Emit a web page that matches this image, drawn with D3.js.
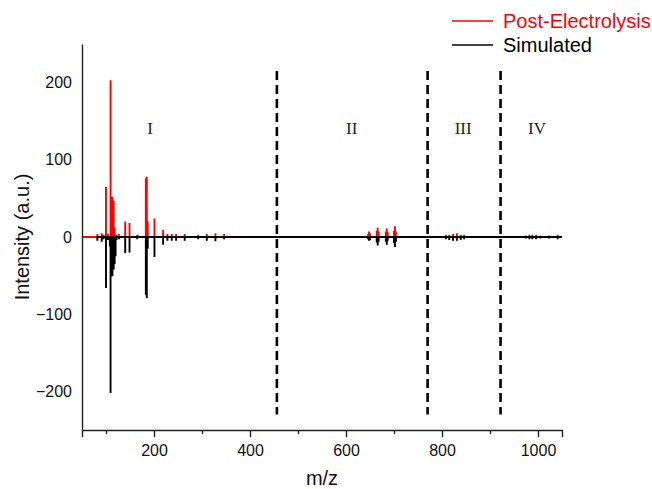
<!DOCTYPE html>
<html>
<head>
<meta charset="utf-8">
<script src="https://cdn.jsdelivr.net/npm/d3@7/dist/d3.min.js"></script>
<style>
  html, body { margin: 0; padding: 0; background: #fff; }
  svg { display: block; }
</style>
</head>
<body>
<svg id="chart" width="652" height="489"></svg>
<script>
// ---- data ----
const seriesNames = ["Post-Electrolysis", "Simulated"];
const seriesColors = ["#ff0000", "#000000"];

// Post-Electrolysis peaks: [m/z, intensity]
const postPeaks = [
  [82,4],[91,5],[95,3],[100,65],[104,4],[109.5,203],[111.5,25],[113.5,52],[116,47],[118,12],[122,3],
  [127,4],[140,20],[149,18],[165,3],[166,3],[183,76],[185,78],[187,20],[201,24],[219,9],[228,4],
  [237,4],[246,4],[264,4],[282,1],[292,3],[310,4],[328,5],[346,4],
  [646,4],[648,7],[650,5],[664,8],[666,12],[668,7],[683,7],[685,11],[687,6],[700,8],[702,14],[704,7],
  [808,3],[815,3],[823,4],[831,5],[839,3],[846,3],
  [975,2],[982,3],[988,3],[996,3],[1005,2],[1023,2],[1041,3]
];
// Simulated peaks: [m/z, intensity]
const simPeaks = [
  [82,-5],[91,-6],[95,-3],[100,-66],[104,-4],[108,-12],[109.5,-202],[111.5,-38],[113.5,-51],[116,-42],
  [118,-35],[120,-25],[122,-4],[127,-3],[140,-21],[149,-20],[165,-3],[183,-75],[185,-79],[187,-15],
  [201,-26],[219,-10],[228,-5],[237,-5],[246,-5],[264,-5],[292,-3],[310,-5],[328,-5.5],[346,-3],
  [646,-3],[648,-5],[650,-4],[664,-7],[666,-11],[668,-6],[683,-6],[685,-10],[687,-5],[700,-8],[702,-13],[704,-6],
  [808,-3],[815,-4],[823,-5],[831,-5],[839,-4],[846,-3],
  [975,-2],[982,-3],[988,-3],[996,-3],[1005,-2],[1023,-2],[1041,-3]
];
const postRange = [50, 1050];
const simRange = [80, 1050];

const xMajorTicks = [200, 400, 600, 800, 1000];
const xMinorTicks = [100, 300, 500, 700, 900];
const yTicks = [200, 100, 0, -100, -200];

const dividerMz = [456, 770, 922];
const dividerSpan = [215, -230];
const regionNames = ["I", "II", "III", "IV"];
const regionMz = [192, 612, 844, 998];
const regionY = 140;

// ---- layout ----
const svg = d3.select("#chart");
const plot = { left: 82, right: 562, top: 44, bottom: 430 };
const x = d3.scaleLinear().domain([50, 1050]).range([plot.left, plot.right]);
const y = d3.scaleLinear().domain([-250, 250]).range([plot.bottom, plot.top]);
const sans = "'Liberation Sans', Arial, sans-serif";

function spectrumPoints(peaks, range) {
  const pts = [[range[0], 0]];
  peaks.slice().sort((a, b) => a[0] - b[0]).forEach(p => {
    pts.push([p[0], 0], [p[0], p[1]], [p[0], 0]);
  });
  pts.push([range[1], 0]);
  return pts;
}
const line = d3.line().x(d => x(d[0])).y(d => y(d[1]));

// spectra
svg.append("path").attr("d", line(spectrumPoints(postPeaks, postRange)))
  .attr("fill", "none").attr("stroke", seriesColors[0]).attr("stroke-width", 1.9);
svg.append("path").attr("d", line(spectrumPoints(simPeaks, simRange)))
  .attr("fill", "none").attr("stroke", seriesColors[1]).attr("stroke-width", 1.9);

// dividers
svg.selectAll("line.div").data(dividerMz).enter().append("line")
  .attr("x1", d => x(d)).attr("x2", d => x(d))
  .attr("y1", y(dividerSpan[0])).attr("y2", y(dividerSpan[1]))
  .attr("stroke", "#000").attr("stroke-width", 2.6).attr("stroke-dasharray", "9,5");

// region labels
svg.selectAll("text.region").data(regionNames).enter().append("text")
  .attr("x", (d, i) => x(regionMz[i])).attr("y", y(regionY))
  .attr("text-anchor", "middle").attr("dominant-baseline", "central")
  .attr("font-family", "'Liberation Serif', 'Times New Roman', serif")
  .attr("font-size", 17).attr("fill", "#222").text(d => d);

// axes
svg.append("g").attr("transform", `translate(0,${plot.bottom})`)
  .call(d3.axisBottom(x).tickValues(xMajorTicks).tickSize(7).tickPadding(8).tickFormat(d3.format("d")));
svg.append("g").attr("transform", `translate(0,${plot.bottom})`)
  .call(d3.axisBottom(x).tickValues(xMinorTicks).tickSize(4).tickFormat(""))
  .call(g => g.select(".domain").remove());
svg.append("g").attr("transform", `translate(${plot.left},0)`)
  .call(d3.axisLeft(y).tickValues(yTicks).tickSize(0).tickPadding(10)
    .tickFormat(d => d < 0 ? "\u2212" + Math.abs(d) : String(d)));

svg.selectAll(".domain").attr("stroke", "#222").attr("stroke-width", 1.4);
svg.selectAll(".tick line").attr("stroke", "#222").attr("stroke-width", 1.4);
svg.selectAll(".tick text").attr("font-family", sans).attr("font-size", 16).attr("fill", "#111");

// axis titles
svg.append("text").attr("x", (plot.left + plot.right) / 2).attr("y", 485)
  .attr("text-anchor", "middle").attr("font-family", sans).attr("font-size", 20)
  .attr("fill", "#111").text("m/z");
svg.append("text").attr("transform", `translate(29,${y(0)}) rotate(-90)`)
  .attr("text-anchor", "middle").attr("font-family", sans).attr("font-size", 20)
  .attr("fill", "#111").text("Intensity (a.u.)");

// legend
const legend = svg.append("g");
seriesNames.forEach((name, i) => {
  const ly = 21 + i * 24;
  legend.append("line").attr("x1", 452).attr("x2", 493).attr("y1", ly).attr("y2", ly)
    .attr("stroke", seriesColors[i]).attr("stroke-width", 1.6);
  legend.append("text").attr("x", 503).attr("y", ly).attr("dominant-baseline", "central")
    .attr("font-family", sans).attr("font-size", 20).attr("fill", seriesColors[i]).text(name);
});
</script>
</body>
</html>
